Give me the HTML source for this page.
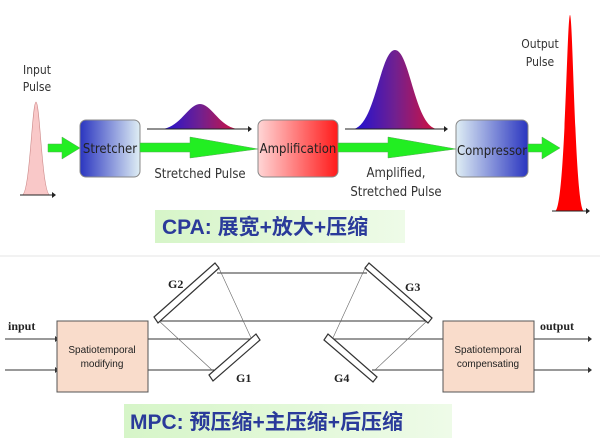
<!DOCTYPE html>
<html><head><meta charset="utf-8"><style>
html,body{margin:0;padding:0;background:#fff;}
svg{display:block;}
</style></head><body>
<svg width="600" height="448" viewBox="0 0 600 448" xmlns="http://www.w3.org/2000/svg">
<defs>
<linearGradient id="gs" x1="0" x2="1"><stop offset="0" stop-color="#2a35c0"/><stop offset="1" stop-color="#dfeef4"/></linearGradient>
<linearGradient id="gc" x1="0" x2="1"><stop offset="0" stop-color="#dfeef4"/><stop offset="1" stop-color="#2a35c0"/></linearGradient>
<linearGradient id="ga" x1="0" x2="1"><stop offset="0" stop-color="#ffd6d6"/><stop offset="1" stop-color="#ff1a1a"/></linearGradient>
<linearGradient id="gp" x1="0" x2="1"><stop offset="0" stop-color="#1a10d8"/><stop offset="0.5" stop-color="#702090"/><stop offset="1" stop-color="#d8103a"/></linearGradient>
<linearGradient id="gl" x1="0" x2="1"><stop offset="0" stop-color="#d6f5c8"/><stop offset="1" stop-color="#eefbe8"/></linearGradient>
</defs>
<g font-family="'DejaVu Sans Condensed','DejaVu Sans',sans-serif" font-size="12" fill="#333">
<path d="M22,195 C30,195 32,102 36,102 C40,102 42,195 50,195 Z" fill="#f9c8c8" stroke="#c88" stroke-width="0.6"/>
<line x1="20" y1="195" x2="52" y2="195" stroke="#222"/><path d="M52,192 L56,195 L52,198Z" fill="#222"/>
<text x="37" y="74" text-anchor="middle">Input</text><text x="37" y="91" text-anchor="middle">Pulse</text>
<path d="M48,144 L62,144 L62,137 L80,148 L62,159 L62,152 L48,152Z" fill="#22ee22" stroke="#5a5" stroke-width="0.5"/>
<rect x="80" y="120" width="60" height="57" rx="6" fill="url(#gs)" stroke="#888"/>
<text x="110" y="153" text-anchor="middle" fill="#222" font-size="13">Stretcher</text>
<path d="M160,129 C180,129 188,104 200,104 C212,104 220,129 240,129 Z" fill="url(#gp)"/>
<line x1="147" y1="129" x2="248" y2="129" stroke="#222"/><path d="M248,126 L252,129 L248,132Z" fill="#222"/>
<path d="M140,143 L190,143 L190,137 L258,149 L190,158 L190,152 L140,152Z" fill="#22ee22" stroke="#5a5" stroke-width="0.5"/>
<text x="200" y="178" text-anchor="middle" font-size="13">Stretched Pulse</text>
<rect x="258" y="120" width="80" height="57" rx="6" fill="url(#ga)" stroke="#888"/>
<text x="298" y="153" text-anchor="middle" fill="#222" font-size="13">Amplification</text>
<path d="M352,129 C375,129 380,50 395,50 C410,50 415,129 438,129 Z" fill="url(#gp)"/>
<line x1="345" y1="129" x2="444" y2="129" stroke="#222"/><path d="M444,126 L448,129 L444,132Z" fill="#222"/>
<path d="M338,143 L388,143 L388,137 L456,149 L388,158 L388,152 L338,152Z" fill="#22ee22" stroke="#5a5" stroke-width="0.5"/>
<text x="396" y="177" text-anchor="middle" font-size="13">Amplified,</text><text x="396" y="196" text-anchor="middle" font-size="13">Stretched Pulse</text>
<rect x="456" y="120" width="72" height="57" rx="6" fill="url(#gc)" stroke="#888"/>
<text x="492" y="155" text-anchor="middle" fill="#222" font-size="13">Compressor</text>
<path d="M528,144 L542,144 L542,137 L560,148 L542,159 L542,152 L528,152Z" fill="#22ee22" stroke="#5a5" stroke-width="0.5"/>
<path d="M555,211 C565,211 567,15 570,15 C573,15 575,211 584,211 Z" fill="#ff0000"/>
<line x1="552" y1="211" x2="586" y2="211" stroke="#222"/><path d="M586,208 L590,211 L586,214Z" fill="#222"/>
<text x="540" y="48" text-anchor="middle">Output</text><text x="540" y="66" text-anchor="middle">Pulse</text>
</g>
<rect x="155" y="210" width="250" height="33" fill="url(#gl)"/>
<text x="162" y="234" font-family="'Liberation Sans','Noto Sans CJK SC',sans-serif" font-size="21" font-weight="bold" fill="#2a3a9a">CPA: 展宽+放大+压缩</text>
<line x1="0" y1="256" x2="600" y2="256" stroke="#eee" stroke-width="1.5"/>
<g stroke="#333" fill="none">
<line x1="5" y1="339" x2="57" y2="339"/><line x1="5" y1="370" x2="57" y2="370"/>
<line x1="148" y1="339" x2="256" y2="339"/><line x1="148" y1="370" x2="214" y2="370"/>
<line x1="217" y1="273" x2="367" y2="273"/><line x1="157" y1="321" x2="430" y2="321"/>
<line x1="330" y1="339" x2="443" y2="339"/><line x1="372" y1="370" x2="443" y2="370"/>
<line x1="534" y1="339" x2="590" y2="339"/><line x1="534" y1="370" x2="590" y2="370"/>
<g stroke-width="0.6" stroke="#666">
<line x1="218" y1="266" x2="252" y2="340"/><line x1="158" y1="320" x2="212" y2="370"/>
<line x1="366" y1="266" x2="332" y2="340"/><line x1="428" y1="320" x2="375" y2="370"/>
</g>
<g stroke-width="1.2" fill="#fff">
<polygon points="154,317 215,263 219,268 158,323"/>
<polygon points="209,375 256,334 260,340 213,381"/>
<polygon points="365,268 369,263 432,318 428,323"/>
<polygon points="324,340 328,334 377,377 373,382"/>
</g>
</g>
<path d="M55,336 L59,339 L55,342Z M55,367 L59,370 L55,373Z M588,336 L592,339 L588,342Z M588,367 L592,370 L588,373Z" fill="#333"/>
<rect x="57" y="321" width="91" height="71" fill="#f9dccb" stroke="#555"/>
<rect x="443" y="321" width="91" height="71" fill="#f9dccb" stroke="#555"/>
<g font-family="'Liberation Sans',sans-serif" font-size="10" fill="#222" text-anchor="middle">
<text x="102" y="353">Spatiotemporal</text><text x="102" y="367">modifying</text>
<text x="488" y="353">Spatiotemporal</text><text x="488" y="367">compensating</text>
</g>
<g font-family="'Liberation Serif',serif" font-size="12" font-weight="bold" fill="#222">
<text x="8" y="330">input</text><text x="540" y="330">output</text>
<text x="168" y="288">G2</text><text x="236" y="382">G1</text>
<text x="405" y="291">G3</text><text x="334" y="382">G4</text>
</g>
<rect x="124" y="404" width="328" height="34" fill="url(#gl)"/>
<text x="130" y="429" font-family="'Liberation Sans','Noto Sans CJK SC',sans-serif" font-size="21" font-weight="bold" fill="#2a3a9a">MPC: 预压缩+主压缩+后压缩</text>
</svg>
</body></html>
